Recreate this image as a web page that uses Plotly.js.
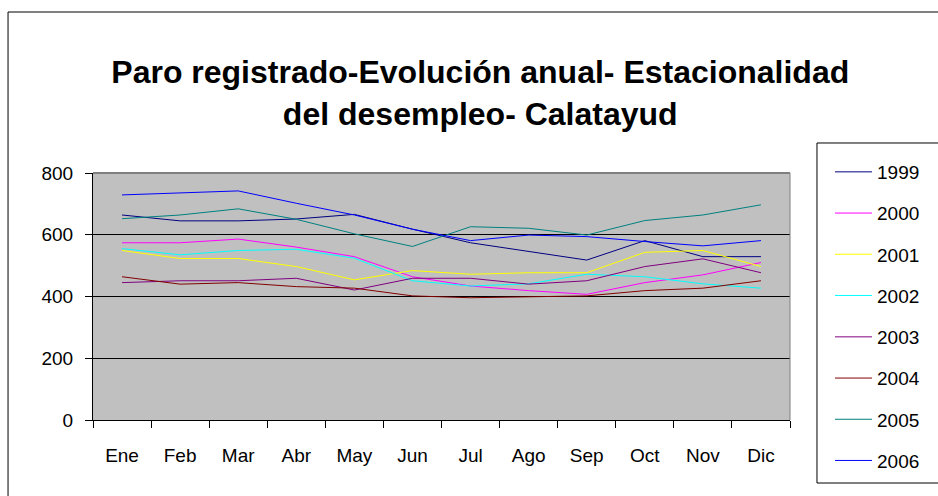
<!DOCTYPE html>
<html>
<head>
<meta charset="utf-8">
<script src="https://cdn.plot.ly/plotly-3.0.1.min.js"></script>
<style>
html,body{margin:0;padding:0;background:#fff;}
#chart{width:938px;height:496px;}
</style>
</head>
<body>
<div id="chart"></div>
<script>
const months = ["Ene","Feb","Mar","Abr","May","Jun","Jul","Ago","Sep","Oct","Nov","Dic"];
const years = ["1999","2000","2001","2002","2003","2004","2005","2006"];

const v1999 = [664, 645, 645, 651, 666, 618, 574, 545, 518, 581, 529, 529];
const v2000 = [574, 574, 586, 560, 529, 464, 434, 419, 407, 445, 470, 510];
const v2001 = [549, 523, 523, 497, 454, 484, 472, 477, 477, 543, 549, 497];
const v2002 = [555, 535, 549, 553, 524, 451, 434, 441, 472, 464, 441, 427];
const v2003 = [445, 451, 451, 459, 421, 459, 459, 440, 451, 497, 522, 477];
const v2004 = [464, 440, 445, 432, 427, 402, 396, 399, 402, 419, 427, 451];
const v2005 = [652, 664, 684, 650, 603, 562, 626, 621, 599, 646, 664, 697];
const v2006 = [729, 735, 742, 702, 664, 618, 581, 599, 594, 578, 564, 581];

const seriesValues = [v1999, v2000, v2001, v2002, v2003, v2004, v2005, v2006];
const colors = ["#000080", "#FF00FF", "#FFFF00", "#00FFFF", "#800080", "#800000", "#008080", "#0000FF"];

const traces = years.map((y, i) => ({
  type: "scatter",
  mode: "lines",
  name: y,
  x: months,
  y: seriesValues[i],
  line: {color: colors[i], width: 1},
  legendgroup: "g" + i,
  legend: i < 4 ? "legend" : "legend2"
}));

const font = {family: "Liberation Sans, Arial, sans-serif", color: "#000"};

const legendBase = {
  xref: "container", x: 830 / 938, xanchor: "left",
  yref: "container", yanchor: "top",
  borderwidth: 0,
  bgcolor: "rgba(0,0,0,0)",
  font: Object.assign({size: 19}, font),
  tracegroupgap: 13.5,
  itemwidth: 37
};

const layout = {
  width: 938, height: 496,
  margin: {l: 93, r: 148, t: 173, b: 76, pad: 0},
  paper_bgcolor: "#ffffff",
  plot_bgcolor: "#C0C0C0",
  font: Object.assign({size: 19}, font),
  title: {
    text: "Paro registrado-Evolución anual- Estacionalidad<br>del desempleo- Calatayud",
    font: Object.assign({}, font, {size: 32, weight: "bold"}),
    xref: "container", x: 0.512, xanchor: "center",
    yref: "container", y: 0.832, yanchor: "top"
  },
  xaxis: {
    type: "category",
    range: [-0.5, 11.5],
    showgrid: false,
    zeroline: false,
    showline: true, linecolor: "#000", linewidth: 1,
    ticks: "outside", ticklen: 7, tickcolor: "#000", tickwidth: 1,
    tickson: "boundaries",
    ticklabelstandoff: 18,
    tickfont: Object.assign({size: 19}, font)
  },
  yaxis: {
    range: [0, 800],
    tickvals: [0, 200, 400, 600, 800],
    showgrid: true, gridcolor: "#000", gridwidth: 1,
    zeroline: false,
    showline: true, linecolor: "#000", linewidth: 1,
    ticks: "outside", ticklen: 7, tickcolor: "#000", tickwidth: 1,
    ticklabelstandoff: 8,
    tickfont: Object.assign({size: 19}, font),
    fixedrange: true
  },
  legend: Object.assign({}, legendBase, {y: 1 - 153 / 496}),
  legend2: Object.assign({}, legendBase, {y: 1 - 318 / 496}),
  shapes: [
    {type: "line", xref: "paper", yref: "paper",
     x0: 1, x1: 1, y0: 0, y1: 1, line: {color: "#808080", width: 1}},
    {type: "line", xref: "paper", yref: "paper",
     x0: 0, x1: 1, y0: 1, y1: 1, line: {color: "#808080", width: 2}},
    {type: "rect", xref: "paper", yref: "paper",
     x0: -0.1219, x1: 1.22, y0: -0.33, y1: 1.6518,
     line: {color: "#000", width: 1}, fillcolor: "rgba(0,0,0,0)", layer: "below"},
    {type: "rect", xref: "paper", yref: "paper",
     x0: 1.0387, x1: 1.2224, y0: -0.2551, y1: 1.1215,
     line: {color: "#000", width: 1}, fillcolor: "#ffffff", layer: "below"}
  ],
  showlegend: true
};

Plotly.newPlot("chart", traces, layout, {staticPlot: true, displayModeBar: false});
</script>
</body>
</html>
